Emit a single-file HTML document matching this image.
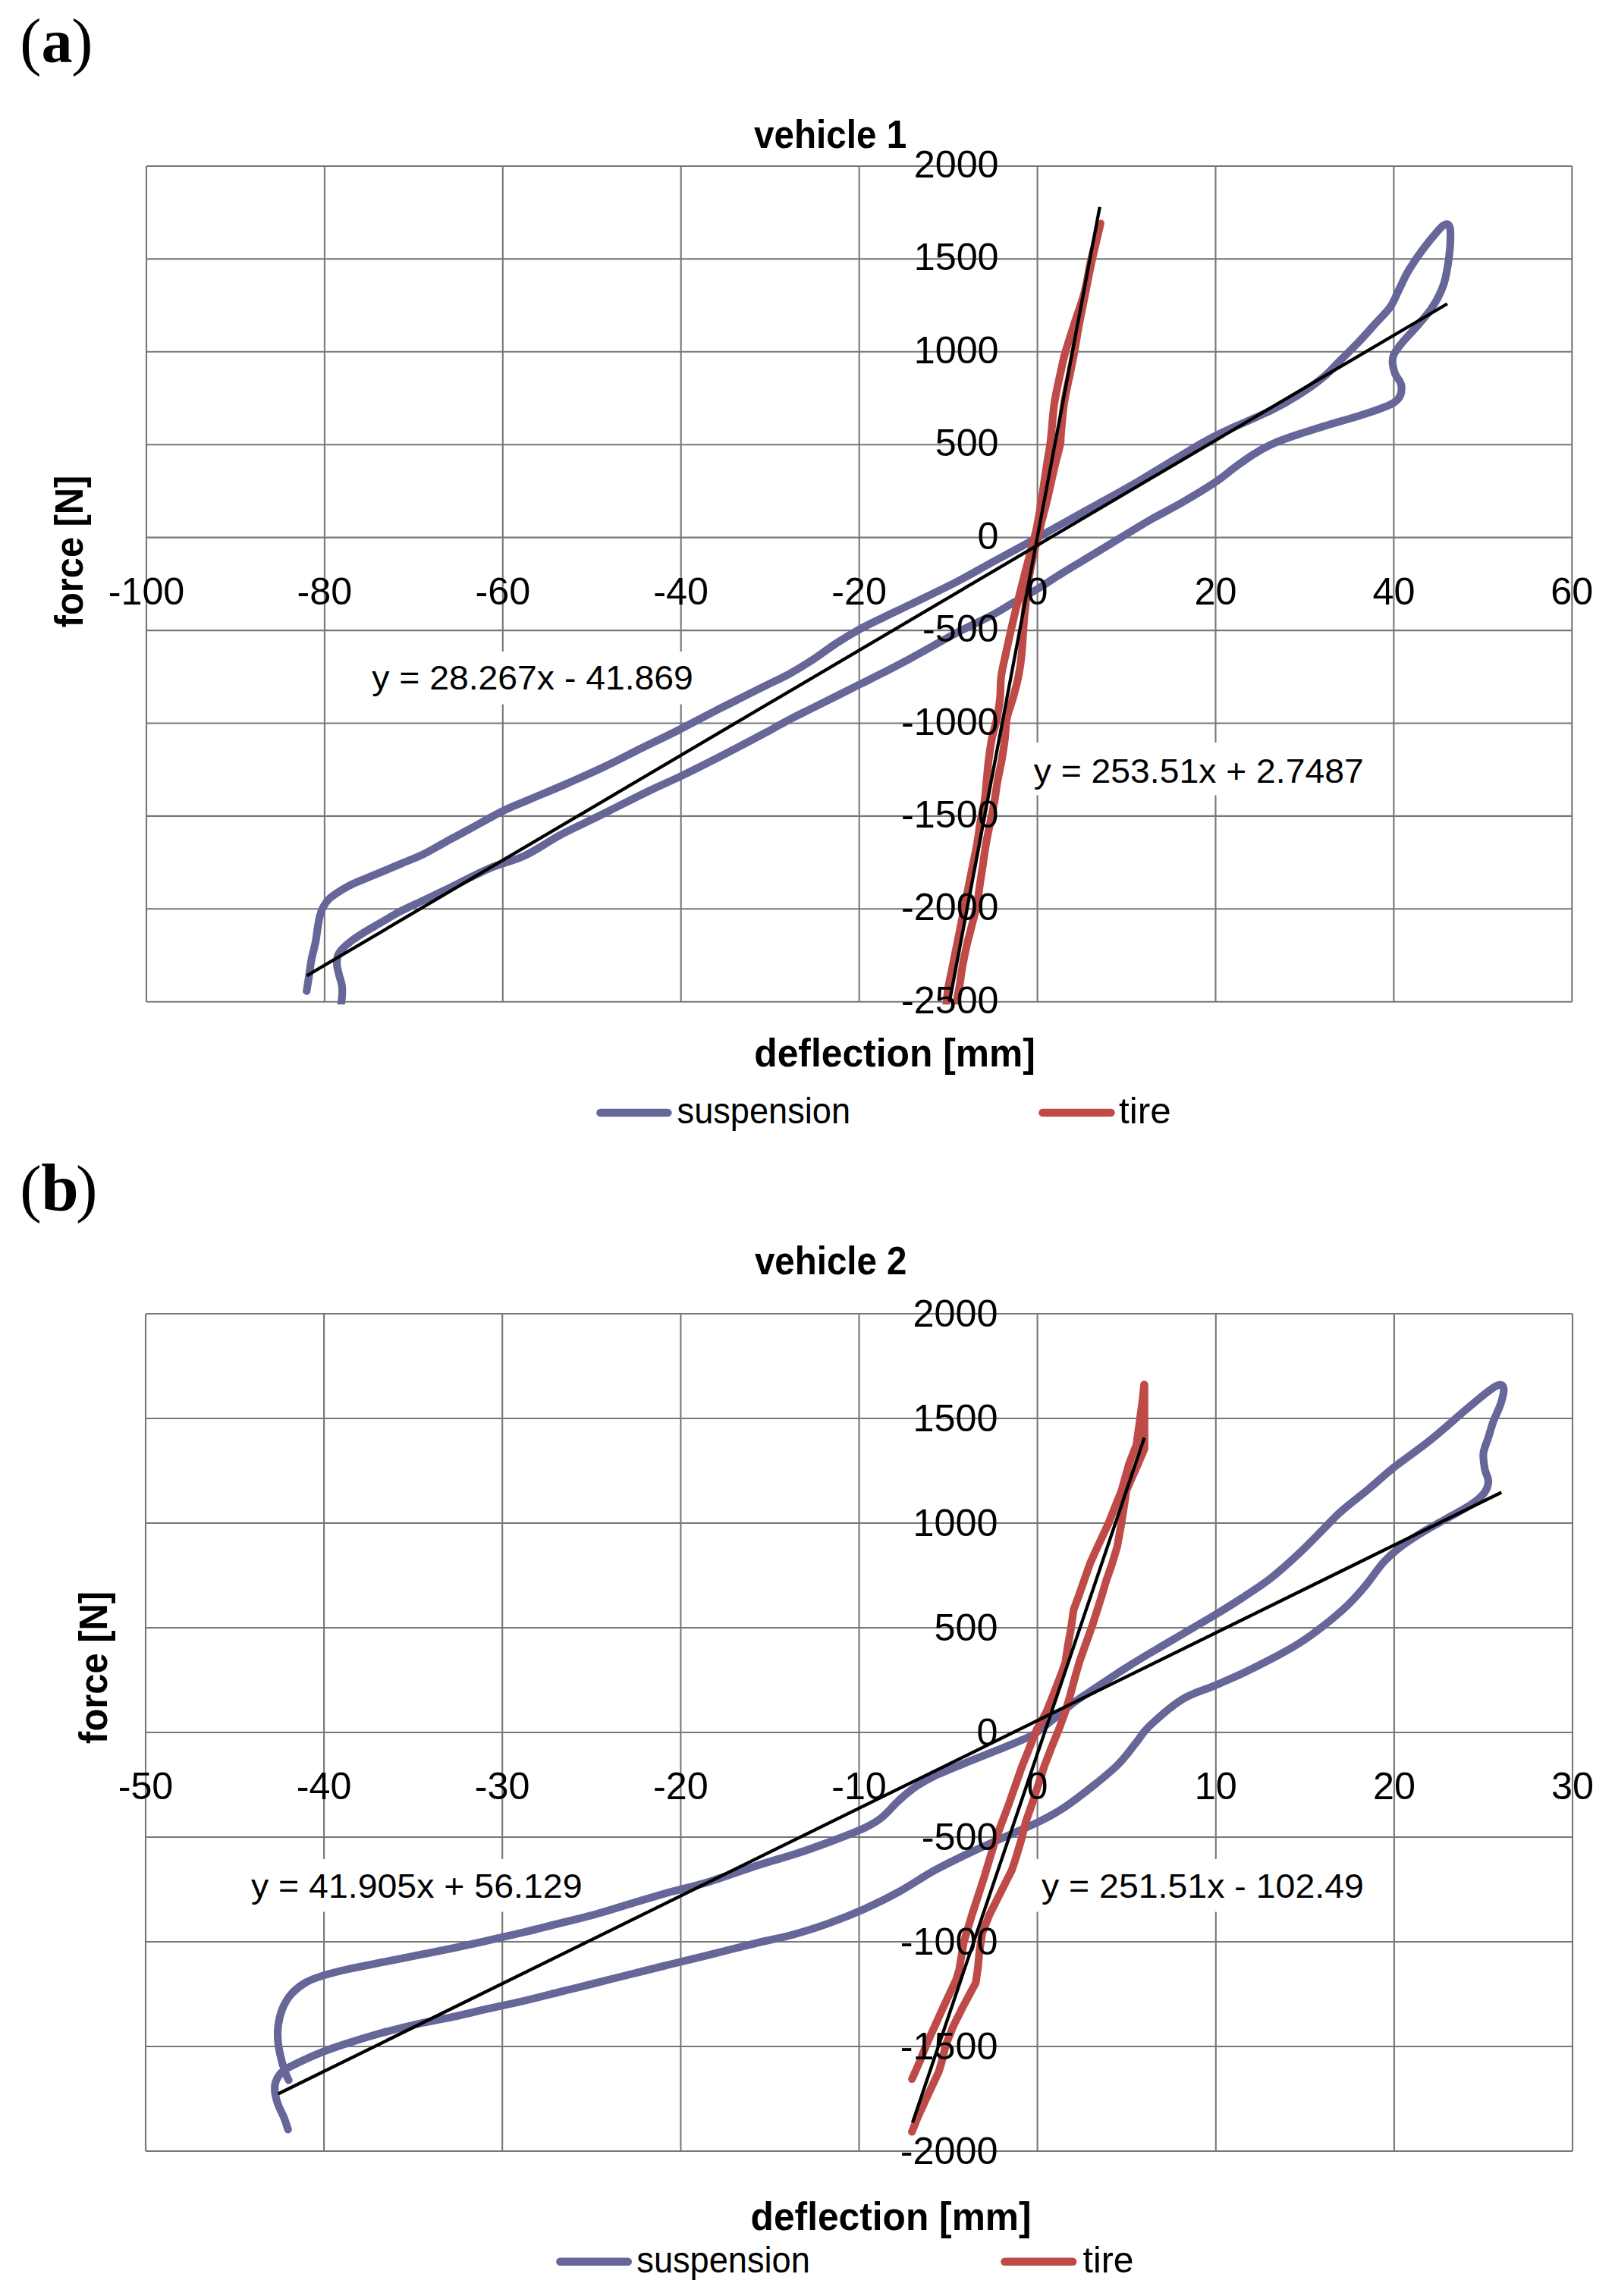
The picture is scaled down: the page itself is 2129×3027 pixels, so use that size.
<!DOCTYPE html>
<html><head><meta charset="utf-8"><title>Force-deflection characteristics</title>
<style>html,body{margin:0;padding:0;background:#fff}svg{display:block}text{font-family:"Liberation Sans",sans-serif;fill:#000}.b{font-weight:bold}.s{font-family:"Liberation Serif",serif}</style></head><body>
<svg width="2129" height="3027" viewBox="0 0 2129 3027">
<rect width="2129" height="3027" fill="#fff"/>
<g stroke="#777777" stroke-width="2.1" fill="none"><line x1="193.0" y1="219.0" x2="193.0" y2="1320.7"/><line x1="427.9" y1="219.0" x2="427.9" y2="1320.7"/><line x1="662.8" y1="219.0" x2="662.8" y2="1320.7"/><line x1="897.7" y1="219.0" x2="897.7" y2="1320.7"/><line x1="1132.7" y1="219.0" x2="1132.7" y2="1320.7"/><line x1="1367.6" y1="219.0" x2="1367.6" y2="1320.7"/><line x1="1602.5" y1="219.0" x2="1602.5" y2="1320.7"/><line x1="1837.4" y1="219.0" x2="1837.4" y2="1320.7"/><line x1="2072.3" y1="219.0" x2="2072.3" y2="1320.7"/><line x1="193.0" y1="219.0" x2="2072.3" y2="219.0"/><line x1="193.0" y1="341.4" x2="2072.3" y2="341.4"/><line x1="193.0" y1="463.8" x2="2072.3" y2="463.8"/><line x1="193.0" y1="586.2" x2="2072.3" y2="586.2"/><line x1="193.0" y1="708.6" x2="2072.3" y2="708.6"/><line x1="193.0" y1="831.1" x2="2072.3" y2="831.1"/><line x1="193.0" y1="953.5" x2="2072.3" y2="953.5"/><line x1="193.0" y1="1075.9" x2="2072.3" y2="1075.9"/><line x1="193.0" y1="1198.3" x2="2072.3" y2="1198.3"/><line x1="193.0" y1="1320.7" x2="2072.3" y2="1320.7"/></g>
<clipPath id="c1"><rect x="193.0" y="199.0" width="1879.3" height="1125.2"/></clipPath>
<rect x="478" y="859" width="448" height="69.5" fill="#fff"/>
<rect x="1350" y="979" width="460" height="69.5" fill="#fff"/>
<g clip-path="url(#c1)" fill="none" stroke-linecap="round" stroke-linejoin="round">
<path d="M404.2,1306.6 C404.6,1304.0 405.7,1297.8 406.7,1291.0 C407.8,1284.2 409.0,1273.7 410.5,1265.7 C411.9,1257.8 414.2,1250.6 415.7,1243.4 C417.1,1236.3 417.9,1228.6 418.9,1222.6 C419.9,1216.7 420.4,1212.2 421.6,1207.8 C422.8,1203.3 424.1,1199.6 426.1,1195.9 C428.0,1192.2 430.3,1188.7 433.5,1185.5 C436.7,1182.3 440.9,1179.6 445.4,1176.6 C449.8,1173.6 455.3,1170.3 460.2,1167.7 C465.2,1165.1 468.7,1163.7 475.1,1161.0 C481.5,1158.3 490.0,1155.0 498.9,1151.3 C507.8,1147.6 518.7,1142.9 528.6,1138.7 C538.5,1134.5 548.4,1130.9 558.3,1126.1 C568.2,1121.2 578.1,1115.1 588.0,1109.7 C597.9,1104.3 605.2,1100.6 617.7,1093.8 C630.3,1087.0 650.1,1075.5 663.5,1068.9 C676.9,1062.3 684.1,1060.0 698.1,1054.0 C712.2,1048.0 731.2,1040.2 747.7,1033.0 C764.2,1025.7 780.7,1018.5 797.2,1010.7 C813.7,1002.8 830.2,994.1 846.7,985.9 C863.3,977.7 879.5,970.2 896.3,961.6 C913.1,953.1 934.0,941.9 947.7,934.8 C961.4,927.7 968.3,924.5 978.6,919.3 C989.0,914.2 999.3,909.0 1009.6,903.8 C1019.9,898.7 1030.2,894.0 1040.6,888.4 C1050.9,882.7 1061.2,876.5 1071.5,869.8 C1081.8,863.1 1092.2,854.8 1102.5,848.1 C1112.8,841.4 1123.1,835.2 1133.4,829.5 C1143.8,823.9 1153.3,819.5 1164.4,814.1 C1175.5,808.6 1183.9,804.8 1200.0,797.0 C1216.1,789.2 1243.0,776.4 1260.8,767.2 C1278.7,758.0 1290.3,750.9 1307.3,741.6 C1324.3,732.4 1347.5,720.0 1363.0,711.5 C1378.5,702.9 1386.2,698.3 1400.2,690.6 C1414.1,682.8 1431.7,673.2 1446.6,665.0 C1461.5,656.8 1474.5,649.8 1489.3,641.2 C1504.2,632.6 1520.3,622.6 1535.8,613.3 C1551.2,604.0 1571.4,591.8 1582.2,585.5 C1593.0,579.1 1593.0,579.1 1600.8,575.2 C1608.5,571.4 1616.3,567.9 1628.6,562.2 C1641.0,556.6 1661.2,548.3 1675.1,541.3 C1689.0,534.4 1700.6,527.8 1712.2,520.4 C1723.8,513.1 1735.5,505.0 1744.7,497.2 C1754.0,489.5 1760.2,481.7 1768.0,474.0 C1775.7,466.3 1783.4,458.9 1791.2,450.8 C1798.9,442.7 1807.4,433.0 1814.4,425.2 C1821.4,417.5 1827.9,411.7 1833.0,404.3 C1838.0,397.0 1840.7,388.9 1844.6,381.1 C1848.5,373.4 1851.2,366.4 1856.2,357.9 C1861.2,349.4 1868.6,338.5 1874.8,330.0 C1881.0,321.5 1888.6,312.3 1893.4,306.8 C1898.1,301.3 1900.5,298.8 1903.1,297.1 C1905.7,295.3 1907.7,295.0 1909.1,296.1 C1910.6,297.3 1911.5,299.0 1911.9,304.0 C1912.3,309.1 1912.0,318.7 1911.5,326.3 C1910.9,333.9 1910.1,341.2 1908.7,349.5 C1907.2,357.9 1906.0,367.3 1902.6,376.5 C1899.3,385.6 1894.1,395.8 1888.7,404.3 C1883.3,412.9 1876.7,419.8 1870.1,427.6 C1863.6,435.3 1854.7,444.2 1849.2,450.8 C1843.8,457.4 1839.9,462.4 1837.6,467.0 C1835.4,471.7 1835.5,474.4 1835.8,478.6 C1836.0,482.9 1837.2,487.9 1839.0,492.6 C1840.9,497.2 1845.8,501.7 1846.9,506.5 C1848.1,511.3 1847.5,517.3 1846.0,521.4 C1844.4,525.4 1842.1,527.7 1837.6,530.7 C1833.1,533.6 1826.8,536.1 1819.0,539.0 C1811.3,542.0 1803.6,544.4 1791.2,548.3 C1778.8,552.2 1760.2,557.4 1744.7,562.2 C1729.3,567.0 1709.9,573.1 1698.3,577.1 C1686.7,581.1 1682.8,582.7 1675.1,586.4 C1667.3,590.1 1659.6,594.5 1651.9,599.4 C1644.1,604.3 1637.2,609.4 1628.6,615.6 C1620.1,621.8 1612.4,628.8 1600.8,636.5 C1589.2,644.3 1573.7,653.6 1559.0,662.1 C1544.3,670.6 1531.3,676.7 1512.5,687.6 C1493.8,698.6 1465.3,716.4 1446.6,727.7 C1427.9,739.0 1413.3,747.4 1400.2,755.6 C1387.0,763.7 1378.5,769.9 1367.7,776.5 C1356.8,783.1 1345.2,789.2 1335.1,795.0 C1325.1,800.9 1319.7,804.7 1307.3,811.3 C1294.9,817.9 1278.7,825.0 1260.8,834.5 C1243.0,844.0 1216.1,859.5 1200.0,868.2 C1183.9,876.9 1175.5,881.1 1164.4,886.8 C1153.3,892.5 1148.9,894.6 1133.4,902.3 C1118.0,910.0 1087.0,925.5 1071.5,933.3 C1056.0,941.0 1050.9,943.3 1040.6,948.7 C1030.2,954.1 1025.1,957.5 1009.6,965.8 C994.1,974.0 966.3,988.7 947.7,998.3 C929.1,1007.8 913.6,1015.6 898.1,1023.0 C882.7,1030.5 872.3,1034.6 854.8,1043.2 C837.3,1051.7 812.0,1064.6 792.9,1074.1 C773.8,1083.6 757.3,1091.1 740.2,1100.1 C723.2,1109.2 706.8,1121.0 690.8,1128.5 C674.9,1136.0 661.5,1137.8 644.4,1145.2 C627.3,1152.6 602.4,1165.9 588.0,1172.9 C573.7,1179.8 568.2,1182.3 558.3,1187.0 C548.4,1191.7 538.5,1195.9 528.6,1201.1 C518.7,1206.3 506.8,1213.6 498.9,1218.2 C490.9,1222.8 487.0,1224.9 481.0,1228.6 C475.1,1232.3 468.2,1236.8 463.2,1240.5 C458.3,1244.2 454.3,1247.7 451.3,1250.9 C448.4,1254.1 446.6,1256.3 445.4,1259.8 C444.2,1263.3 443.9,1267.5 444.2,1271.7 C444.4,1275.9 445.8,1280.6 446.9,1285.1 C447.9,1289.5 449.9,1294.0 450.6,1298.4 C451.3,1302.9 451.3,1306.8 451.0,1311.8 C450.8,1316.8 449.4,1325.4 449.1,1328.1" stroke="#666699" stroke-width="10.2"/>
<path d="M1247.1,1328.4 C1247.5,1324.3 1248.4,1312.4 1249.8,1303.7 C1251.2,1295.0 1253.5,1285.4 1255.3,1276.3 C1257.1,1267.1 1258.9,1258.0 1260.8,1248.8 C1262.6,1239.7 1264.4,1230.6 1266.3,1221.4 C1268.1,1212.3 1269.9,1203.1 1271.8,1194.0 C1273.6,1184.8 1275.4,1175.7 1277.2,1166.5 C1279.1,1157.4 1280.9,1148.2 1282.7,1139.1 C1284.6,1129.9 1286.6,1120.8 1288.2,1111.6 C1289.8,1102.5 1290.7,1093.3 1292.3,1084.2 C1293.9,1075.0 1296.5,1065.9 1297.8,1056.8 C1299.2,1047.6 1299.7,1038.5 1300.6,1029.3 C1301.5,1020.2 1302.2,1011.0 1303.3,1001.9 C1304.5,992.7 1305.6,983.6 1307.4,974.4 C1309.3,965.3 1312.5,956.1 1314.3,947.0 C1316.1,937.8 1317.5,928.7 1318.4,919.5 C1319.3,910.4 1318.6,901.2 1319.8,892.1 C1320.9,882.9 1322.3,878.4 1325.3,864.7 C1328.2,850.9 1333.3,828.1 1337.6,809.8 C1342.0,791.5 1346.6,773.4 1351.3,754.9 C1356.1,736.4 1362.3,715.1 1366.0,698.8 C1369.7,682.5 1371.0,670.9 1373.3,657.0 C1375.6,643.1 1377.7,627.0 1379.6,615.2 C1381.4,603.4 1383.3,592.9 1384.4,586.0 C1385.4,579.0 1384.9,582.5 1385.8,573.4 C1386.8,564.4 1387.9,545.6 1390.0,531.6 C1392.1,517.7 1395.9,501.2 1398.4,489.8 C1400.8,478.5 1401.7,474.2 1404.6,463.7 C1407.6,453.3 1412.0,440.2 1416.1,427.2 C1420.3,414.1 1426.1,399.3 1429.7,385.4 C1433.4,371.4 1434.6,358.7 1438.1,343.6 C1441.6,328.4 1450.5,294.5 1450.7,294.5 C1451.0,294.5 1442.7,328.4 1439.4,343.6 C1436.1,358.7 1433.8,371.4 1431.0,385.4 C1428.2,399.3 1425.1,414.1 1422.7,427.2 C1420.2,440.2 1418.3,453.3 1416.4,463.7 C1414.5,474.2 1413.4,478.5 1411.2,489.8 C1408.9,501.2 1404.9,517.7 1402.8,531.6 C1400.7,545.6 1399.5,564.4 1398.6,573.4 C1397.8,582.5 1399.0,579.0 1397.6,586.0 C1396.2,592.9 1393.1,603.4 1390.3,615.2 C1387.5,627.0 1384.2,643.1 1380.9,657.0 C1377.6,670.9 1374.3,682.5 1370.4,698.8 C1366.5,715.1 1360.9,736.4 1357.6,754.9 C1354.3,773.4 1352.6,791.5 1350.7,809.8 C1348.9,828.1 1348.0,850.9 1346.6,864.7 C1345.3,878.4 1344.3,882.9 1342.5,892.1 C1340.7,901.2 1338.2,910.4 1335.6,919.5 C1333.1,928.7 1329.2,937.8 1327.4,947.0 C1325.6,956.1 1325.8,965.3 1324.7,974.4 C1323.5,983.6 1322.2,992.7 1320.6,1001.9 C1319.0,1011.0 1316.7,1020.2 1315.1,1029.3 C1313.5,1038.5 1312.5,1047.6 1310.9,1056.8 C1309.3,1065.9 1307.3,1075.0 1305.5,1084.2 C1303.6,1093.3 1301.6,1102.5 1300.0,1111.6 C1298.4,1120.8 1297.2,1129.9 1295.9,1139.1 C1294.5,1148.2 1293.1,1157.4 1291.7,1166.5 C1290.4,1175.7 1289.5,1184.8 1287.6,1194.0 C1285.8,1203.1 1283.0,1212.3 1280.8,1221.4 C1278.5,1230.6 1276.0,1239.7 1273.9,1248.8 C1271.8,1258.0 1270.0,1267.1 1268.4,1276.3 C1266.8,1285.4 1265.9,1295.0 1264.3,1303.7 C1262.7,1312.4 1259.7,1324.3 1258.8,1328.4" stroke="#BE4B48" stroke-width="10.2"/>
<path d="M404.5,1286.3 L1907.9,400.5" stroke="#000" stroke-width="4.3" stroke-linecap="butt"/>
<path d="M1251.7,1320.7 L1449.8,272.8" stroke="#000" stroke-width="4.3" stroke-linecap="butt"/>
</g>
<g stroke="#777777" stroke-width="2.1" fill="none"><line x1="192.0" y1="1732.0" x2="192.0" y2="2836.0"/><line x1="427.1" y1="1732.0" x2="427.1" y2="2836.0"/><line x1="662.2" y1="1732.0" x2="662.2" y2="2836.0"/><line x1="897.4" y1="1732.0" x2="897.4" y2="2836.0"/><line x1="1132.5" y1="1732.0" x2="1132.5" y2="2836.0"/><line x1="1367.6" y1="1732.0" x2="1367.6" y2="2836.0"/><line x1="1602.8" y1="1732.0" x2="1602.8" y2="2836.0"/><line x1="1837.9" y1="1732.0" x2="1837.9" y2="2836.0"/><line x1="2073.0" y1="1732.0" x2="2073.0" y2="2836.0"/><line x1="192.0" y1="1732.0" x2="2073.0" y2="1732.0"/><line x1="192.0" y1="1870.0" x2="2073.0" y2="1870.0"/><line x1="192.0" y1="2008.0" x2="2073.0" y2="2008.0"/><line x1="192.0" y1="2146.0" x2="2073.0" y2="2146.0"/><line x1="192.0" y1="2284.0" x2="2073.0" y2="2284.0"/><line x1="192.0" y1="2422.0" x2="2073.0" y2="2422.0"/><line x1="192.0" y1="2560.0" x2="2073.0" y2="2560.0"/><line x1="192.0" y1="2698.0" x2="2073.0" y2="2698.0"/><line x1="192.0" y1="2836.0" x2="2073.0" y2="2836.0"/></g>
<rect x="318" y="2451" width="462" height="69.5" fill="#fff"/>
<rect x="1352" y="2451" width="462" height="69.5" fill="#fff"/>
<g fill="none" stroke-linecap="round" stroke-linejoin="round">
<path d="M380.6,2742.4 C380.1,2741.3 378.9,2739.7 377.4,2735.5 C375.8,2731.2 373.1,2723.8 371.3,2716.9 C369.6,2709.9 367.5,2701.4 366.7,2693.7 C365.9,2685.9 365.7,2678.2 366.7,2670.4 C367.7,2662.7 369.8,2654.2 372.7,2647.2 C375.7,2640.3 379.3,2634.2 384.3,2628.6 C389.4,2623.1 395.9,2617.8 402.9,2613.8 C409.9,2609.8 416.8,2607.4 426.1,2604.5 C435.4,2601.6 445.5,2599.1 458.6,2596.1 C471.8,2593.2 489.6,2589.9 505.1,2586.8 C520.6,2583.7 536.0,2580.7 551.5,2577.6 C567.0,2574.5 582.5,2571.5 598.0,2568.3 C613.4,2565.0 628.9,2561.5 644.4,2558.1 C659.9,2554.6 675.4,2551.1 690.8,2547.4 C706.3,2543.7 721.8,2539.6 737.3,2535.8 C752.8,2531.9 768.2,2528.4 783.7,2524.2 C799.2,2519.9 814.7,2514.9 830.2,2510.2 C845.6,2505.6 860.0,2500.9 876.6,2496.3 C893.2,2491.6 909.4,2488.6 930.0,2482.4 C950.6,2476.1 980.6,2465.1 1000.0,2458.8 C1019.4,2452.6 1031.0,2449.9 1046.4,2444.9 C1061.9,2439.9 1077.4,2434.4 1092.9,2428.6 C1108.4,2422.8 1127.7,2415.5 1139.3,2410.1 C1150.9,2404.6 1154.8,2402.3 1162.5,2396.1 C1170.3,2389.9 1178.0,2379.9 1185.8,2372.9 C1193.5,2365.9 1201.2,2359.6 1209.0,2354.3 C1216.7,2349.1 1220.6,2346.8 1232.2,2341.3 C1243.8,2335.9 1263.2,2328.2 1278.6,2321.8 C1294.1,2315.5 1311.9,2308.7 1325.1,2303.3 C1338.2,2297.8 1349.9,2293.2 1357.6,2289.3 C1365.3,2285.5 1365.3,2284.7 1371.5,2280.0 C1377.7,2275.4 1387.0,2267.6 1394.7,2261.5 C1402.5,2255.3 1409.4,2249.1 1418.0,2242.9 C1426.5,2236.7 1436.5,2230.5 1445.8,2224.3 C1455.1,2218.1 1462.9,2212.7 1473.7,2205.7 C1484.5,2198.8 1489.7,2195.2 1510.8,2182.5 C1532.0,2169.8 1579.6,2142.3 1600.8,2129.6 C1622.0,2116.9 1625.5,2114.5 1637.9,2106.4 C1650.3,2098.2 1662.7,2090.5 1675.1,2080.8 C1687.5,2071.1 1700.6,2059.1 1712.2,2048.3 C1723.8,2037.5 1735.5,2025.1 1744.7,2015.8 C1754.0,2006.5 1757.9,2001.5 1768.0,1992.6 C1778.0,1983.7 1793.5,1972.1 1805.1,1962.4 C1816.7,1952.7 1824.5,1945.0 1837.6,1934.5 C1850.8,1924.1 1868.6,1912.1 1884.1,1899.7 C1899.5,1887.3 1918.1,1870.7 1930.5,1860.2 C1942.9,1849.8 1951.2,1842.6 1958.4,1837.0 C1965.5,1831.4 1969.5,1828.5 1973.2,1826.8 C1976.9,1825.1 1979.2,1825.3 1980.7,1826.8 C1982.1,1828.3 1982.6,1831.2 1982.1,1835.6 C1981.5,1840.0 1979.7,1846.8 1977.4,1853.3 C1975.2,1859.7 1971.1,1867.2 1968.6,1874.2 C1966.0,1881.1 1964.3,1888.1 1962.1,1895.0 C1959.9,1902.0 1956.4,1909.0 1955.6,1915.9 C1954.8,1922.9 1956.4,1930.7 1957.4,1936.8 C1958.5,1943.0 1962.2,1947.8 1962.1,1953.1 C1961.9,1958.4 1960.2,1963.4 1956.5,1968.4 C1952.8,1973.5 1948.0,1977.7 1939.8,1983.3 C1931.6,1988.9 1918.1,1995.7 1907.3,2001.9 C1896.4,2008.1 1884.8,2014.2 1874.8,2020.4 C1864.7,2026.6 1855.4,2032.4 1846.9,2039.0 C1838.4,2045.6 1831.4,2051.4 1823.7,2059.9 C1816.0,2068.4 1808.2,2080.8 1800.5,2090.1 C1792.7,2099.4 1786.5,2106.7 1777.3,2115.6 C1768.0,2124.5 1755.6,2135.0 1744.7,2143.5 C1733.9,2152.0 1723.8,2159.4 1712.2,2166.7 C1700.6,2174.1 1687.5,2181.0 1675.1,2187.6 C1662.7,2194.2 1650.3,2200.4 1637.9,2206.2 C1625.5,2212.0 1613.9,2216.8 1600.8,2222.5 C1587.6,2228.1 1573.2,2231.3 1559.0,2240.1 C1544.8,2248.9 1525.8,2265.6 1515.5,2275.4 C1505.1,2285.1 1503.9,2290.1 1496.9,2298.6 C1489.9,2307.1 1483.0,2317.2 1473.7,2326.5 C1464.4,2335.8 1452.8,2345.0 1441.2,2354.3 C1429.6,2363.6 1415.6,2374.5 1404.0,2382.2 C1392.4,2389.9 1384.7,2394.2 1371.5,2400.8 C1358.4,2407.4 1340.6,2414.7 1325.1,2421.7 C1309.6,2428.6 1294.1,2435.2 1278.6,2442.6 C1263.2,2449.9 1247.7,2457.3 1232.2,2465.8 C1216.7,2474.3 1201.2,2485.1 1185.8,2493.7 C1170.3,2502.2 1154.8,2509.9 1139.3,2516.9 C1123.8,2523.8 1108.4,2529.9 1092.9,2535.5 C1077.4,2541.0 1061.9,2546.1 1046.4,2550.3 C1031.0,2554.6 1019.4,2556.3 1000.0,2561.0 C980.6,2565.7 950.6,2573.4 930.0,2578.5 C909.4,2583.6 893.2,2587.4 876.6,2591.5 C860.0,2595.6 845.6,2599.2 830.2,2603.1 C814.7,2607.0 799.2,2610.8 783.7,2614.7 C768.2,2618.6 752.8,2622.5 737.3,2626.3 C721.8,2630.2 706.3,2634.3 690.8,2637.9 C675.4,2641.6 659.9,2644.7 644.4,2648.1 C628.9,2651.6 613.4,2655.5 598.0,2658.8 C582.5,2662.2 567.0,2664.6 551.5,2668.1 C536.0,2671.6 520.6,2675.5 505.1,2679.7 C489.6,2684.0 472.6,2689.2 458.6,2693.7 C444.7,2698.1 432.3,2702.4 421.5,2706.7 C410.7,2710.9 401.8,2715.2 393.6,2719.2 C385.5,2723.2 377.8,2726.6 372.7,2730.8 C367.7,2735.1 365.1,2740.1 363.4,2744.7 C361.7,2749.4 362.0,2753.6 362.5,2758.7 C363.1,2763.7 364.8,2769.5 366.7,2774.9 C368.6,2780.3 372.0,2785.8 374.1,2791.2 C376.3,2796.6 378.8,2804.7 379.7,2807.4" stroke="#666699" stroke-width="10.2"/>
<path d="M1508.2,1825.7 L1506.5,1843.5 L1503.0,1869.7 L1498.2,1904.5 L1488.2,1930.6 L1478.4,1965.4 L1461.0,2009.0 L1446.8,2039.4 L1437.0,2061.2 L1429.4,2083.0 L1421.8,2104.7 L1415.3,2122.2 L1412.0,2146.1 L1407.7,2170.0 L1404.4,2191.8 L1399.0,2207.1 L1388.1,2235.4 L1379.4,2257.1 L1366.8,2280.0 L1347.3,2328.8 L1330.2,2377.6 L1312.0,2426.3 L1297.3,2475.1 L1281.5,2523.9 L1270.5,2560.5 L1264.4,2597.1 L1260.7,2609.3 L1243.7,2645.9 L1221.7,2694.6 L1212.0,2719.0 L1202.2,2741.0" stroke="#BE4B48" stroke-width="10.2"/>
<path d="M1508.7,1825.7 L1508.7,1909.9 L1500.0,1930.6 L1484.7,1965.4 L1483.6,1974.1 L1478.2,2009.0 L1472.7,2039.4 L1466.2,2061.2 L1458.6,2083.0 L1452.1,2104.7 L1446.6,2122.2 L1439.0,2146.1 L1430.3,2170.0 L1422.7,2191.8 L1418.3,2207.1 L1410.7,2235.4 L1404.2,2257.1 L1396.3,2278.9 L1385.9,2304.4 L1376.6,2328.8 L1360.7,2377.6 L1352.2,2402.0 L1346.1,2426.3 L1338.8,2450.7 L1333.9,2465.4 L1316.8,2499.5 L1304.6,2523.9 L1294.9,2548.3 L1291.2,2572.7 L1288.8,2597.1 L1286.3,2614.1 L1269.3,2645.9 L1257.1,2670.2 L1247.3,2694.6 L1241.2,2719.0 L1237.6,2731.2 L1220.5,2767.8 L1209.5,2792.2 L1202.2,2810.5" stroke="#BE4B48" stroke-width="10.2"/>
<path d="M366.7,2760.5 L1979.3,1967.5" stroke="#000" stroke-width="4.3" stroke-linecap="butt"/>
<path d="M1203,2798.4 L1508.5,1895.5" stroke="#000" stroke-width="4.3" stroke-linecap="butt"/>
</g>
<text x="1316.6" y="234.0" font-size="50.3" text-anchor="end">2000</text>
<text x="1316.6" y="356.4" font-size="50.3" text-anchor="end">1500</text>
<text x="1316.6" y="478.8" font-size="50.3" text-anchor="end">1000</text>
<text x="1316.6" y="601.2" font-size="50.3" text-anchor="end">500</text>
<text x="1316.6" y="723.6" font-size="50.3" text-anchor="end">0</text>
<text x="1316.6" y="846.1" font-size="50.3" text-anchor="end">-500</text>
<text x="1316.6" y="968.5" font-size="50.3" text-anchor="end">-1000</text>
<text x="1316.6" y="1090.9" font-size="50.3" text-anchor="end">-1500</text>
<text x="1316.6" y="1213.3" font-size="50.3" text-anchor="end">-2000</text>
<text x="1316.6" y="1335.7" font-size="50.3" text-anchor="end">-2500</text>
<text x="193.0" y="797.4" font-size="50.3" text-anchor="middle">-100</text>
<text x="427.9" y="797.4" font-size="50.3" text-anchor="middle">-80</text>
<text x="662.8" y="797.4" font-size="50.3" text-anchor="middle">-60</text>
<text x="897.7" y="797.4" font-size="50.3" text-anchor="middle">-40</text>
<text x="1132.7" y="797.4" font-size="50.3" text-anchor="middle">-20</text>
<text x="1367.6" y="797.4" font-size="50.3" text-anchor="middle">0</text>
<text x="1602.5" y="797.4" font-size="50.3" text-anchor="middle">20</text>
<text x="1837.4" y="797.4" font-size="50.3" text-anchor="middle">40</text>
<text x="2072.3" y="797.4" font-size="50.3" text-anchor="middle">60</text>
<text x="1315.4" y="1748.5" font-size="50.3" text-anchor="end">2000</text>
<text x="1315.4" y="1886.5" font-size="50.3" text-anchor="end">1500</text>
<text x="1315.4" y="2024.5" font-size="50.3" text-anchor="end">1000</text>
<text x="1315.4" y="2162.5" font-size="50.3" text-anchor="end">500</text>
<text x="1315.4" y="2300.5" font-size="50.3" text-anchor="end">0</text>
<text x="1315.4" y="2438.5" font-size="50.3" text-anchor="end">-500</text>
<text x="1315.4" y="2576.5" font-size="50.3" text-anchor="end">-1000</text>
<text x="1315.4" y="2714.5" font-size="50.3" text-anchor="end">-1500</text>
<text x="1315.4" y="2852.5" font-size="50.3" text-anchor="end">-2000</text>
<text x="192.0" y="2372.0" font-size="50.3" text-anchor="middle">-50</text>
<text x="427.1" y="2372.0" font-size="50.3" text-anchor="middle">-40</text>
<text x="662.2" y="2372.0" font-size="50.3" text-anchor="middle">-30</text>
<text x="897.4" y="2372.0" font-size="50.3" text-anchor="middle">-20</text>
<text x="1132.5" y="2372.0" font-size="50.3" text-anchor="middle">-10</text>
<text x="1367.6" y="2372.0" font-size="50.3" text-anchor="middle">0</text>
<text x="1602.8" y="2372.0" font-size="50.3" text-anchor="middle">10</text>
<text x="1837.9" y="2372.0" font-size="50.3" text-anchor="middle">20</text>
<text x="2073.0" y="2372.0" font-size="50.3" text-anchor="middle">30</text>
<text x="994.1" y="194.9" font-size="51.5" class="b" textLength="201.0" lengthAdjust="spacingAndGlyphs">vehicle 1</text>
<text x="994.9" y="1680.4" font-size="51.5" class="b" textLength="200.6" lengthAdjust="spacingAndGlyphs">vehicle 2</text>
<text x="994.3" y="1406.0" font-size="51.5" class="b" textLength="370.5" lengthAdjust="spacingAndGlyphs">deflection [mm]</text>
<text x="989.6" y="2939.9" font-size="51.5" class="b" textLength="370.0" lengthAdjust="spacingAndGlyphs">deflection [mm]</text>
<text transform="translate(109.2,827.2) rotate(-90)" font-size="51.5" class="b" textLength="200.5" lengthAdjust="spacingAndGlyphs">force [N]</text>
<text transform="translate(140.5,2298.9) rotate(-90)" font-size="51.5" class="b" textLength="201" lengthAdjust="spacingAndGlyphs">force [N]</text>
<text x="490.2" y="909.0" font-size="44.0" textLength="423.7" lengthAdjust="spacingAndGlyphs">y = 28.267x - 41.869</text>
<text x="1362.7" y="1031.9" font-size="44.0" textLength="435.0" lengthAdjust="spacingAndGlyphs">y = 253.51x + 2.7487</text>
<text x="330.9" y="2502.0" font-size="44.0" textLength="436.6" lengthAdjust="spacingAndGlyphs">y = 41.905x + 56.129</text>
<text x="1372.9" y="2502.0" font-size="44.0" textLength="425.0" lengthAdjust="spacingAndGlyphs">y = 251.51x - 102.49</text>
<g stroke-width="10.5" stroke-linecap="round" fill="none">
<path d="M791.5,1467 H880.4" stroke="#666699"/><path d="M1374.5,1467 H1464.5" stroke="#BE4B48"/>
<path d="M738.4,2981.7 H827.8" stroke="#666699"/><path d="M1324.5,2981.7 H1414.2" stroke="#BE4B48"/>
</g>
<text x="892.6" y="1481.0" font-size="48.0" textLength="228.4" lengthAdjust="spacingAndGlyphs">suspension</text>
<text x="1475.0" y="1481.0" font-size="48.0" textLength="68.8" lengthAdjust="spacingAndGlyphs">tire</text>
<text x="839.3" y="2996.0" font-size="48.0" textLength="228.5" lengthAdjust="spacingAndGlyphs">suspension</text>
<text x="1427.6" y="2996.0" font-size="48.0" textLength="66.8" lengthAdjust="spacingAndGlyphs">tire</text>
<text class="s" font-size="84.6"><tspan x="26.3" y="82.7">(</tspan><tspan class="b" font-size="82" x="54.6" y="82.3">a</tspan><tspan x="94.3" y="82.7" font-size="84.6">)</tspan></text>
<text class="s" font-size="85.5"><tspan x="26.2" y="1595.4">(</tspan><tspan class="b" font-size="89" x="54.3" y="1595.6">b</tspan><tspan x="100" y="1595.4" font-size="85.5">)</tspan></text>
</svg></body></html>
